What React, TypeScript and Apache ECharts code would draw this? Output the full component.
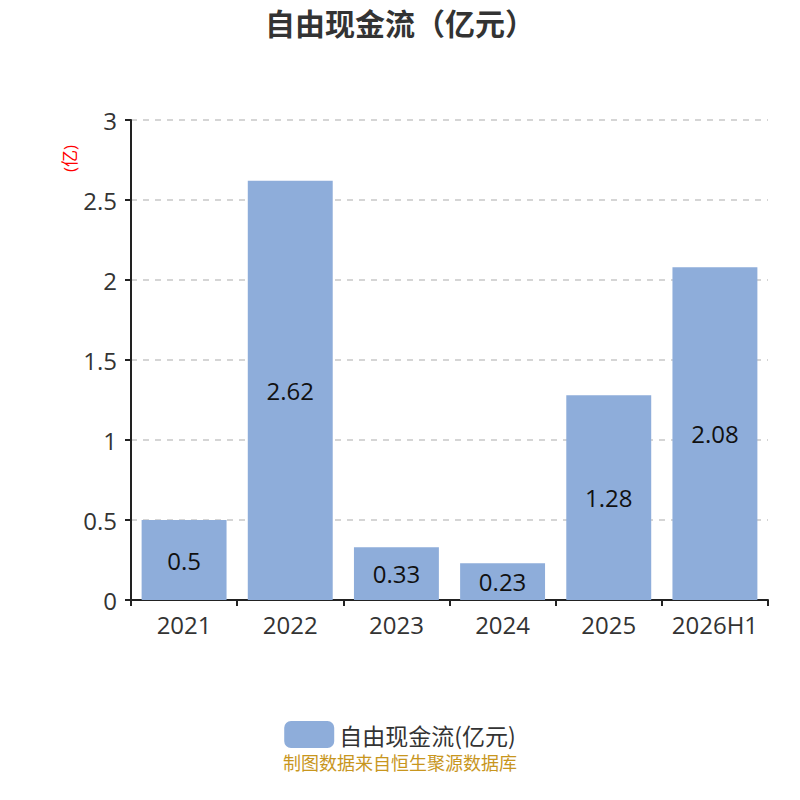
import React, { useEffect, useRef } from "react";
import * as echarts from "echarts";

const categories = ["2021", "2022", "2023", "2024", "2025", "2026H1"];
const values = [0.5, 2.62, 0.33, 0.23, 1.28, 2.08];
const seriesName = "自由现金流(亿元)";
const titleText = "自由现金流（亿元）";
const unitText = "(亿)";
const sourceText = "制图数据来自恒生聚源数据库";

export default function App() {
  const ref = useRef<HTMLDivElement>(null);
  useEffect(() => {
    if (!ref.current) return;
    const chart = echarts.init(ref.current, null, { renderer: "svg" });
    const font = "'Open Sans', 'Noto Sans CJK SC', sans-serif";
    const cjk = "'Noto Sans CJK SC', sans-serif";
    chart.setOption({
      animation: false,
      textStyle: { fontFamily: font },
      title: {
        text: titleText,
        left: "center",
        top: 3,
        textStyle: { fontSize: 30, fontWeight: "bold", color: "#333", fontFamily: font },
      },
      grid: { left: 131, right: 32, top: 120, bottom: 200, containLabel: false },
      legend: {
        top: 716,
        left: "center",
        itemWidth: 50,
        itemHeight: 27,
        itemGap: 10,
        icon: "roundRect",
        textStyle: { fontSize: 23, lineHeight: 24, color: "#333", fontFamily: cjk },
        data: [seriesName],
      },
      graphic: [
        {
          type: "text",
          x: 61,
          y: 172,
          rotation: Math.PI / 2,
          style: { text: unitText, fill: "red", fontSize: 17, fontFamily: font },
        },
        {
          type: "text",
          left: "center",
          top: 753,
          style: { text: sourceText, fill: "#c8961e", fontSize: 18, lineHeight: 18, fontFamily: cjk },
        },
      ],
      xAxis: {
        type: "category",
        data: categories,
        axisLine: { lineStyle: { color: "#222", width: 2 } },
        axisTick: { show: true, length: 6, lineStyle: { color: "#222", width: 2 } },
        axisLabel: { fontSize: 24, color: "#333", margin: 12, interval: 0 },
      },
      yAxis: {
        type: "value",
        min: 0,
        max: 3,
        interval: 0.5,
        axisLine: { show: true, lineStyle: { color: "#222", width: 2 } },
        axisTick: { show: true, length: 6, lineStyle: { color: "#222", width: 2 } },
        axisLabel: { fontSize: 24, color: "#333", margin: 14 },
        splitLine: { lineStyle: { type: [6, 6], color: "#c8c8c8", width: 1.5 } },
      },
      series: [
        {
          name: seriesName,
          type: "bar",
          data: values,
          barWidth: "80%",
          itemStyle: { color: "#8eadda" },
          label: { show: true, position: "inside", fontSize: 24, color: "#111" },
        },
      ],
    });
    return () => chart.dispose();
  }, []);
  return (
    <div
      ref={ref}
      style={{ position: "fixed", left: 0, top: 0, width: 800, height: 800, background: "#fff" }}
    />
  );
}
